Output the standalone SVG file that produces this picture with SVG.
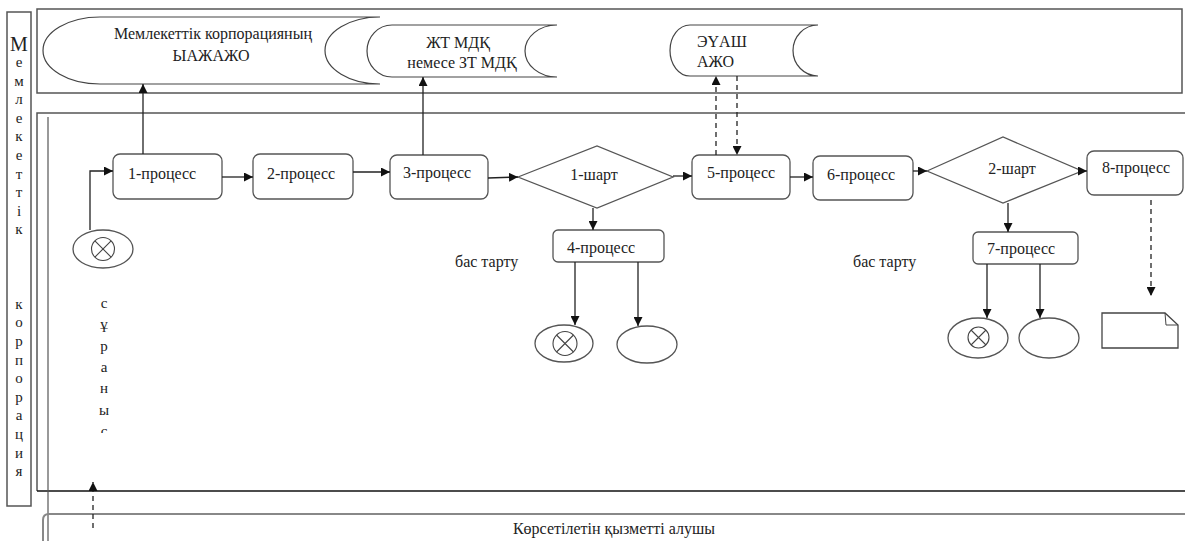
<svg xmlns="http://www.w3.org/2000/svg" width="1185" height="541" viewBox="0 0 1185 541">
<style>
.t{font-family:"Liberation Serif","Times New Roman",serif;font-size:16px;fill:#222}
.v{font-family:"Liberation Serif","Times New Roman",serif;font-size:15px;fill:#222;text-anchor:middle}
.box{fill:#fff;stroke:#555;stroke-width:1.3}
.doc{fill:#fff;stroke:#444;stroke-width:1.2}
.lane{fill:none;stroke:#555;stroke-width:1.5}
.c{fill:none;stroke:#222;stroke-width:1.3}
.d{fill:none;stroke:#222;stroke-width:1.3;stroke-dasharray:5,4}
.m{text-anchor:middle}
</style>
<defs>
<marker id="ah" viewBox="0 0 10 10" refX="10" refY="5" markerWidth="9" markerHeight="9" markerUnits="userSpaceOnUse" orient="auto">
<path d="M0,0 L10,5 L0,10 Z" fill="#111"/>
</marker>
<clipPath id="clipS"><rect x="90" y="290" width="30" height="143"/></clipPath>
</defs>
<rect width="1185" height="541" fill="#fff"/>

<g id="lanes">
<rect x="7" y="12" width="24" height="494" class="lane"/>
<rect x="37" y="9" width="1145" height="84" class="lane"/>
<path d="M1185,113 L37,113 L37,491" class="lane"/>
<line x1="37" y1="491" x2="1185" y2="491" stroke="#111" stroke-width="1.6"/>
<line x1="48" y1="117" x2="48" y2="541" stroke="#555" stroke-width="1.2"/>
<path d="M43,541 L43,520 Q43,514 49,514 L1185,514" fill="none" stroke="#888" stroke-width="2"/>
<text class="t m" x="614" y="534">Көрсетілетін қызметті алушы</text>
</g>

<g id="lane-title">
<text class="v" x="19" y="51" style="font-size:20px">М</text>
<text class="v" x="19" y="67">е</text>
<text class="v" x="19" y="85.6">м</text>
<text class="v" x="19" y="104.2">л</text>
<text class="v" x="19" y="122.8">е</text>
<text class="v" x="19" y="141.4">к</text>
<text class="v" x="19" y="160">е</text>
<text class="v" x="19" y="178.6">т</text>
<text class="v" x="19" y="197.2">т</text>
<text class="v" x="19" y="215.8">і</text>
<text class="v" x="19" y="234.4">к</text>
<text class="v" x="19" y="308.8">к</text>
<text class="v" x="19" y="327.4">о</text>
<text class="v" x="19" y="346">р</text>
<text class="v" x="19" y="364.6">п</text>
<text class="v" x="19" y="383.2">о</text>
<text class="v" x="19" y="401.8">р</text>
<text class="v" x="19" y="420.4">а</text>
<text class="v" x="19" y="439">ц</text>
<text class="v" x="19" y="457.6">и</text>
<text class="v" x="19" y="476.2">я</text>
</g>

<g id="request-label" clip-path="url(#clipS)">
<text class="v" x="104" y="308">с</text>
<text class="v" x="104" y="329.3">ұ</text>
<text class="v" x="104" y="350.6">р</text>
<text class="v" x="104" y="371.9">а</text>
<text class="v" x="104" y="393.2">н</text>
<text class="v" x="104" y="414.5">ы</text>
<text class="v" x="104" y="435.8">с</text>
</g>

<g id="doc1">
<path class="doc" d="M100,17 L380,17 A55,33.5 0 0 0 380,84 L100,84 A57,33.5 0 0 1 100,17 Z"/>
<text class="t m" x="213" y="39">Мемлекеттік корпорацияның</text>
<text class="t m" x="211" y="61">ЫАЖАЖО</text>
</g>
<g id="doc2">
<path class="doc" d="M392,25 L557,25 A32,26 0 0 0 557,77 L392,77 A25,26 0 0 1 392,25 Z"/>
<text class="t m" x="458" y="48">ЖТ МДҚ</text>
<text class="t m" x="462" y="68">немесе ЗТ МДҚ</text>
</g>
<g id="doc3">
<path class="doc" d="M690,25 L818,25 A25,25.5 0 0 0 818,76 L690,76 A20,25.5 0 0 1 690,25 Z"/>
<text class="t" x="697" y="47">ЭҮАШ</text>
<text class="t" x="697" y="67">АЖО</text>
</g>

<g id="start">
<ellipse cx="103" cy="249" rx="30" ry="19" class="box"/>
<circle cx="103" cy="249" r="11.5" fill="none" stroke="#444" stroke-width="1.1"/>
<path d="M94.9,240.9 L111.1,257.1 M111.1,240.9 L94.9,257.1" stroke="#444" stroke-width="1.1"/>
</g>

<g id="p1"><rect x="113" y="154" width="109" height="45" rx="7" class="box"/><text class="t" x="128" y="179">1-процесс</text></g>
<g id="p2"><rect x="253" y="154" width="100" height="45" rx="7" class="box"/><text class="t" x="267" y="179">2-процесс</text></g>
<g id="p3"><rect x="390" y="155" width="98" height="44" rx="7" class="box"/><text class="t" x="403" y="178">3-процесс</text></g>
<g id="c1"><polygon points="518,177 597,146 673,177 597,208" class="box"/><text class="t m" x="594" y="180">1-шарт</text></g>
<g id="p5"><rect x="692" y="155" width="98" height="44" rx="7" class="box"/><text class="t" x="707" y="178">5-процесс</text></g>
<g id="p4"><rect x="553" y="230" width="111" height="32" rx="5" class="box"/><text class="t" x="567" y="253">4-процесс</text></g>
<text class="t" x="455" y="267">бас тарту</text>
<g id="p6"><rect x="813" y="156" width="100" height="44" rx="7" class="box"/><text class="t" x="827" y="180">6-процесс</text></g>
<g id="c2"><polygon points="927,171 1003,137 1082,171 1003,203" class="box"/><text class="t m" x="1012" y="174">2-шарт</text></g>
<g id="p8"><rect x="1087" y="151" width="96" height="44" rx="7" class="box"/><text class="t" x="1102" y="173">8-процесс</text></g>
<g id="p7"><rect x="973" y="232" width="105" height="32" rx="5" class="box"/><text class="t" x="987" y="254">7-процесс</text></g>
<text class="t" x="853" y="267">бас тарту</text>

<g id="end1">
<ellipse cx="564" cy="343.5" rx="29" ry="18.5" class="box"/>
<circle cx="565" cy="343.5" r="12" fill="none" stroke="#444" stroke-width="1.1"/>
<path d="M556.5,335 L573.5,352 M573.5,335 L556.5,352" stroke="#444" stroke-width="1.1"/>
</g>
<g id="end2"><ellipse cx="647" cy="344.5" rx="30" ry="18.5" class="box"/></g>
<g id="end3">
<ellipse cx="978" cy="338" rx="30" ry="20" class="box"/>
<circle cx="978.5" cy="337.5" r="10.5" fill="none" stroke="#444" stroke-width="1.1"/>
<path d="M971,330 L986,345 M986,330 L971,345" stroke="#444" stroke-width="1.1"/>
</g>
<g id="end4"><ellipse cx="1049" cy="338" rx="30" ry="20" class="box"/></g>
<g id="outdoc">
<path d="M1102,313 L1165,313 L1178,325 L1178,348 L1102,348 Z" fill="#fff" stroke="#444" stroke-width="1.3"/>
<path d="M1165,313 L1166,325 L1178,325" fill="none" stroke="#444" stroke-width="1"/>
</g>

<g id="connectors">
<path class="c" d="M90,230 L90,171 L113,171" marker-end="url(#ah)"/>
<path class="c" d="M222,177 L253,177" marker-end="url(#ah)"/>
<path class="c" d="M353,172 L390,172" marker-end="url(#ah)"/>
<path class="c" d="M488,178 L518,177" marker-end="url(#ah)"/>
<path class="c" d="M673,176 L692,176" marker-end="url(#ah)"/>
<path class="c" d="M790,177 L813,177" marker-end="url(#ah)"/>
<path class="c" d="M913,171 L927,171" marker-end="url(#ah)"/>
<path class="c" d="M1082,171 L1087,171" marker-end="url(#ah)"/>
<path class="c" d="M593,208 L593,230" marker-end="url(#ah)"/>
<path class="c" d="M1008,203 L1008,232" marker-end="url(#ah)"/>
<path class="c" d="M575,262 L575,325" marker-end="url(#ah)"/>
<path class="c" d="M638,262 L638,326" marker-end="url(#ah)"/>
<path class="c" d="M987,264 L987,318" marker-end="url(#ah)"/>
<path class="c" d="M1040,264 L1040,318" marker-end="url(#ah)"/>
<path class="c" d="M143,154 L143,84" marker-end="url(#ah)"/>
<path class="c" d="M423,155 L423,77" marker-end="url(#ah)"/>
<path class="d" d="M716,155 L716,76" marker-end="url(#ah)"/>
<path class="d" d="M737,76 L737,155" marker-end="url(#ah)"/>
<path class="d" d="M1151,200 L1151,296" marker-end="url(#ah)"/>
<path class="d" d="M93,528 L93,482" marker-end="url(#ah)"/>
</g>
</svg>
